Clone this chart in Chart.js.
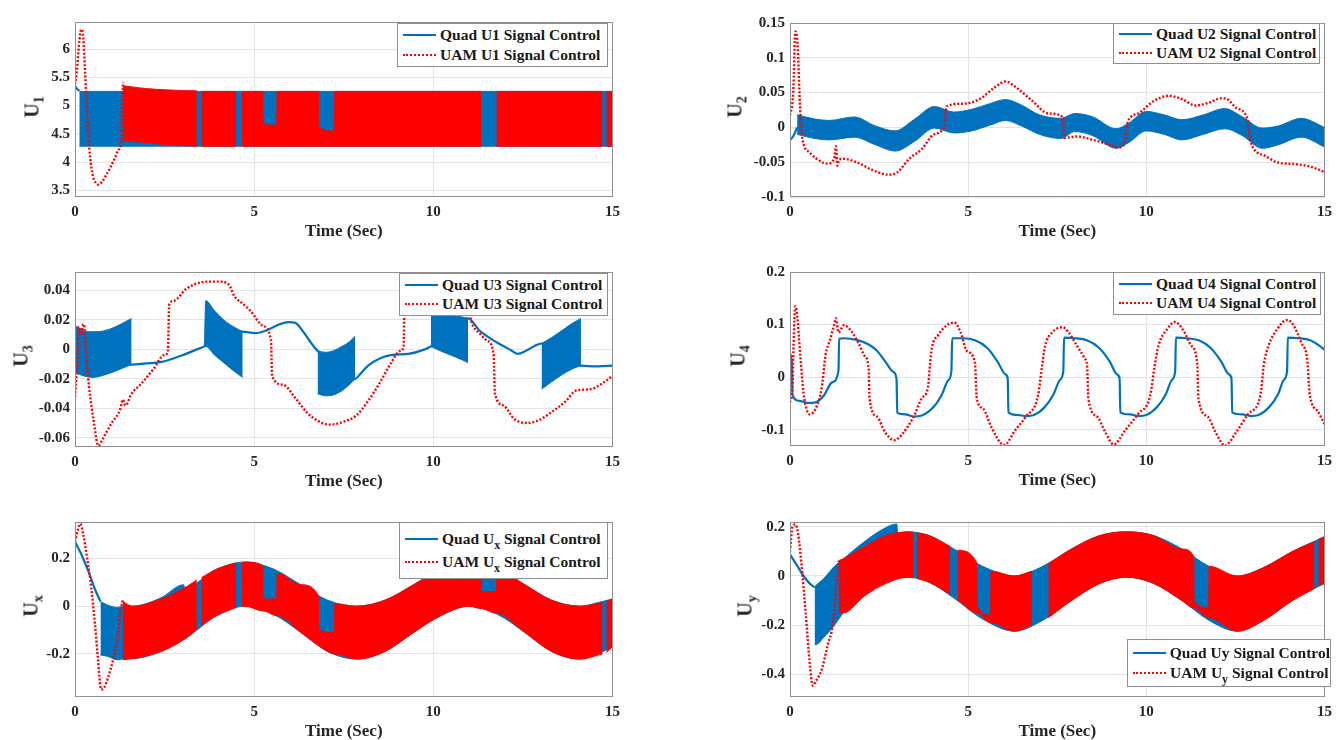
<!DOCTYPE html>
<html>
<head>
<meta charset="utf-8">
<title>Quad vs UAM control signals</title>
<script src="https://cdn.jsdelivr.net/npm/chart.js@4.4.1/dist/chart.umd.min.js"></script>
<style>
  html, body { margin: 0; padding: 0; background: #fff; }
  body { position: relative; width: 1339px; height: 740px; overflow: hidden; font-family: "Liberation Serif", "Times New Roman", serif; }
  canvas { position: absolute; }
  .ylab { position: absolute; transform: translate(-50%, -50%) rotate(-90deg); font-weight: bold; font-size: 20px; color: #262626; white-space: nowrap; }
  .ylab sub { font-size: 14px; line-height: 0; vertical-align: -5px; }
  .legend { position: absolute; box-sizing: border-box; background: #fff; border: 1px solid #8f8f8f;
            display: flex; flex-direction: column; justify-content: space-evenly;
            font-weight: bold; font-size: 15.5px; color: #1a1a1a; }
  .legend .row { display: flex; align-items: center; white-space: nowrap; line-height: 16px; }
  .legend sub { font-size: 12px; line-height: 0; vertical-align: -5px; }
  .sample { display: inline-block; width: 33px; margin: 0 4px 0 5px; border-top: 2px solid #0072bd; }
  .sample.dot { border-top: 2.5px dotted #ff0000; }
</style>
</head>
<body>
<script>
// ---------- data ----------
const X_TICKS = [0, 5, 10, 15];
const X_TITLE = 'Time (Sec)';
const Y_LABELS = ['U<sub>1</sub>', 'U<sub>2</sub>', 'U<sub>3</sub>', 'U<sub>4</sub>', 'U<sub>x</sub>', 'U<sub>y</sub>'];
const LEGENDS = [
  ['Quad U1 Signal Control', 'UAM U1 Signal Control'],
  ['Quad U2 Signal Control', 'UAM U2 Signal Control'],
  ['Quad U3 Signal Control', 'UAM U3 Signal Control'],
  ['Quad U4 Signal Control', 'UAM U4 Signal Control'],
  ['Quad U<sub>x</sub> Signal Control', 'UAM U<sub>x</sub> Signal Control'],
  ['Quad Uy Signal Control', 'UAM U<sub>y</sub> Signal Control']
];

// U1
const U1_TICKS = [3.5, 4, 4.5, 5, 5.5, 6];
const U1_TIME_QUAD = [0, 0.05, 0.12];
const U1_QUAD = [5.35, 5.3, 5.26];
const U1_BAND_TIME_QUAD = [0.12, 15];
const U1_BAND_HI_QUAD = [5.25, 5.25];
const U1_BAND_LO_QUAD = [4.28, 4.28];
const U1_TIME_UAM = [0, 0.05, 0.1, 0.15, 0.19, 0.23, 0.28, 0.34, 0.42, 0.5, 0.58, 0.65, 0.75, 0.88, 1.0, 1.12, 1.22, 1.28, 1.31, 1.34];
const U1_UAM = [5.37, 5.6, 6.0, 6.3, 6.35, 6.2, 5.6, 4.8, 4.1, 3.75, 3.63, 3.6, 3.65, 3.78, 3.92, 4.08, 4.22, 4.3, 5.0, 5.42];
const U1_BAND_TIME_UAM = [1.34, 1.6, 2.0, 2.5, 3.0, 3.4, 3.47, 3.53, 4.0, 4.5, 4.58, 4.66, 5.24, 5.25, 5.63, 5.64, 6.79, 6.8, 7.24, 7.25, 11.33, 11.55, 11.76, 14.72, 14.78, 14.83, 15];
const U1_BAND_HI_UAM = [5.35, 5.33, 5.3, 5.28, 5.265, 5.26, null, 5.25, 5.25, 5.25, null, 5.25, 5.25, 4.68, 4.65, 5.25, 5.25, 4.62, 4.55, 5.25, 5.25, null, 5.25, 5.25, null, 5.25, 5.25];
const U1_BAND_LO_UAM = [4.38, 4.37, 4.34, 4.31, 4.29, 4.28, null, 4.28, 4.28, 4.28, null, 4.28, 4.28, 4.28, 4.28, 4.28, 4.28, 4.28, 4.28, 4.28, 4.28, null, 4.28, 4.28, null, 4.28, 4.28];

// U2
const U2_TICKS = [-0.1, -0.05, 0, 0.05, 0.1, 0.15];
const U2_TIME_QUAD = [0, 0.1, 0.2];
const U2_QUAD = [-0.018, -0.012, 0.0];
const U2_BAND_TIME_QUAD = [0.2, 0.7, 1.1, 1.8, 2.4, 2.95, 3.5, 4.05, 4.6, 5.1, 5.6, 6.05, 6.5, 7.0, 7.6, 8.0, 8.5, 9.15, 9.5, 10.0, 10.5, 11.0, 11.6, 12.2, 12.7, 13.25, 13.7, 14.35, 15];
const U2_BAND_HI_QUAD = [0.018, 0.012, 0.010, 0.015, 0.002, -0.005, 0.012, 0.030, 0.022, 0.026, 0.034, 0.040, 0.032, 0.018, 0.013, 0.020, 0.015, -0.002, 0.006, 0.023, 0.018, 0.011, 0.018, 0.027, 0.015, -0.001, 0.002, 0.013, 0.0];
const U2_BAND_LO_QUAD = [-0.010, -0.016, -0.018, -0.014, -0.025, -0.034, -0.020, -0.001, -0.008, -0.005, 0.003, 0.010, 0.002, -0.010, -0.016, -0.006, -0.012, -0.030, -0.022, -0.005, -0.010, -0.018, -0.010, -0.002, -0.012, -0.030, -0.025, -0.014, -0.028];
const U2_TIME_UAM = [0, 0.09, 0.15, 0.21, 0.29, 0.35, 0.55, 0.9, 1.06, 1.24, 1.29, 1.33, 1.38, 1.47, 1.87, 2.32, 2.78, 3.0, 3.35, 3.7, 4.04, 4.33, 4.36, 4.39, 4.84, 5.3, 5.76, 6.05, 6.33, 6.79, 7.25, 7.65, 7.68, 7.7, 8.05, 8.5, 8.97, 9.2, 9.4, 9.43, 9.48, 9.77, 10.23, 10.63, 11.03, 11.37, 11.72, 12.12, 12.29, 12.52, 12.84, 12.87, 12.92, 13.32, 13.66, 14.23, 14.58, 15];
const U2_UAM = [0.0175, 0.05, 0.138, 0.12, 0.02, -0.017, -0.036, -0.05, -0.052, -0.045, -0.027, -0.055, -0.047, -0.045, -0.05, -0.0615, -0.068, -0.065, -0.045, -0.031, -0.010, 0.0013, 0.015, 0.03, 0.034, 0.04, 0.058, 0.066, 0.058, 0.0385, 0.02, 0.0152, 0.0, -0.015, -0.013, -0.018, -0.025, -0.029, -0.022, -0.008, 0.008, 0.02, 0.0385, 0.0454, 0.04, 0.0315, 0.035, 0.042, 0.04, 0.028, 0.012, 0.0, -0.02, -0.0405, -0.05, -0.053, -0.056, -0.064];

// U3
const U3_TICKS = [-0.06, -0.04, -0.02, 0, 0.02, 0.04];
const U3_TIME_QUAD = [0, 1.58, 1.97, 2.42, 2.76, 3.0, 3.3, 3.61, 4.68, 5.02, 5.36, 5.7, 5.98, 6.15, 6.37, 6.6, 6.77, 7.82, 7.95, 8.18, 8.52, 8.85, 9.3, 9.64, 9.93, 10.97, 11.28, 11.62, 11.9, 12.13, 12.35, 12.58, 12.8, 13.02, 14.12, 14.6, 15];
const U3_QUAD = [0.0, -0.0103, -0.0095, -0.0085, -0.006, -0.004, -0.001, 0.002, 0.012, 0.011, 0.013, 0.017, 0.0185, 0.018, 0.012, 0.004, -0.001, -0.020, -0.017, -0.011, -0.006, -0.0037, -0.003, -0.001, 0.002, 0.021, 0.013, 0.007, 0.003, 0.0, -0.003, -0.001, 0.002, 0.004, -0.011, -0.0115, -0.011];
const U3_BAND_TIME_QUAD = [0.02, 0.25, 0.5, 0.8, 1.1, 1.35, 1.58, 2.6, 3.61, 3.65, 3.9, 4.2, 4.45, 4.68, 5.7, 6.77, 7.0, 7.2, 7.45, 7.65, 7.82, 8.9, 9.93, 10.2, 10.5, 10.8, 10.97, 12.0, 13.02, 13.3, 13.6, 13.9, 14.12];
const U3_BAND_HI_QUAD = [0.016, 0.0125, 0.012, 0.0125, 0.015, 0.018, 0.021, null, 0.002, 0.033, 0.026, 0.019, 0.015, 0.012, null, -0.001, -0.002, -0.001, 0.002, 0.005, 0.009, null, 0.024, 0.024, 0.023, 0.022, 0.021, null, 0.004, 0.008, 0.013, 0.018, 0.021];
const U3_BAND_LO_QUAD = [-0.016, -0.018, -0.019, -0.0175, -0.015, -0.0125, -0.0103, null, 0.002, 0.002, -0.004, -0.010, -0.015, -0.019, null, -0.030, -0.0315, -0.031, -0.028, -0.024, -0.020, null, 0.002, -0.001, -0.004, -0.007, -0.009, null, -0.027, -0.022, -0.017, -0.013, -0.011];
const U3_TIME_UAM = [0, 0.06, 0.11, 0.17, 0.23, 0.26, 0.3, 0.39, 0.53, 0.65, 0.79, 1.02, 1.27, 1.33, 1.41, 1.58, 1.86, 2.2, 2.48, 2.59, 2.63, 2.76, 3.1, 3.44, 3.72, 4.0, 4.29, 4.45, 4.68, 4.9, 5.24, 5.47, 5.5, 5.81, 6.15, 6.48, 6.82, 7.1, 7.5, 7.84, 8.18, 8.52, 8.8, 9.08, 9.17, 9.2, 9.6, 10.1, 10.66, 10.83, 11.05, 11.33, 11.5, 11.68, 11.72, 11.96, 12.25, 12.6, 12.94, 13.27, 13.7, 13.98, 14.38, 14.72, 15];
const U3_UAM = [-0.0323, -0.01, 0.0154, 0.01, 0.0171, 0.016, 0.0, -0.025, -0.05, -0.0653, -0.06, -0.05, -0.04, -0.034, -0.038, -0.030, -0.023, -0.013, -0.004, -0.002, 0.0303, 0.033, 0.041, 0.045, 0.046, 0.046, 0.044, 0.036, 0.031, 0.026, 0.016, 0.006, -0.018, -0.024, -0.033, -0.043, -0.049, -0.051, -0.049, -0.045, -0.035, -0.022, -0.010, -0.001, 0.002, 0.044, 0.048, 0.051, 0.053, 0.05, 0.02, 0.01, 0.006, -0.003, -0.030, -0.038, -0.047, -0.0499, -0.048, -0.043, -0.035, -0.028, -0.027, -0.023, -0.018];

// U4
const U4_TICKS = [-0.1, 0, 0.1, 0.2];
const U4_TIME_QUAD = [0, 0.05, 0.07, 0.26, 0.49, 0.72, 0.95, 1.18, 1.36, 1.38, 1.5, 1.87, 2.21, 2.44, 2.67, 2.9, 2.99, 3.01, 3.24, 3.47, 3.7, 4.04, 4.27, 4.44, 4.53, 4.55, 4.84, 5.19, 5.53, 5.82, 6.05, 6.11, 6.13, 6.4, 6.62, 6.85, 7.15, 7.4, 7.58, 7.67, 7.69, 8.0, 8.33, 8.67, 8.97, 9.18, 9.25, 9.27, 9.55, 9.78, 10.0, 10.3, 10.55, 10.72, 10.81, 10.83, 11.13, 11.47, 11.8, 12.1, 12.32, 12.39, 12.41, 12.7, 12.92, 13.15, 13.45, 13.7, 13.86, 13.95, 13.97, 14.27, 14.6, 14.85, 15];
const U4_QUAD = [0.044, 0.03, -0.034, -0.045, -0.049, -0.048, -0.035, -0.01, 0.012, 0.073, 0.074, 0.071, 0.062, 0.05, 0.03, 0.01, -0.004, -0.068, -0.071, -0.075, -0.073, -0.056, -0.032, -0.006, 0.012, 0.074, 0.074, 0.07, 0.056, 0.03, 0.005, -0.003, -0.067, -0.072, -0.074, -0.072, -0.057, -0.032, -0.005, 0.012, 0.075, 0.074, 0.07, 0.056, 0.03, 0.005, -0.003, -0.067, -0.071, -0.074, -0.072, -0.057, -0.032, -0.005, 0.012, 0.075, 0.074, 0.07, 0.056, 0.03, 0.005, -0.003, -0.067, -0.071, -0.074, -0.072, -0.057, -0.032, -0.005, 0.012, 0.075, 0.074, 0.07, 0.06, 0.052];
const U4_TIME_UAM = [0, 0.07, 0.1, 0.15, 0.19, 0.29, 0.38, 0.55, 0.72, 0.89, 1.0, 1.12, 1.24, 1.29, 1.36, 1.52, 1.69, 1.92, 2.1, 2.21, 2.23, 2.44, 2.67, 2.92, 3.13, 3.47, 3.7, 3.87, 3.93, 3.98, 4.16, 4.39, 4.61, 4.79, 4.96, 5.19, 5.24, 5.42, 5.65, 6.01, 6.33, 6.62, 6.96, 7.08, 7.16, 7.36, 7.65, 7.82, 8.05, 8.28, 8.34, 8.37, 8.62, 8.85, 9.08, 9.42, 9.77, 10.11, 10.23, 10.34, 10.57, 10.8, 11.03, 11.26, 11.43, 11.46, 11.72, 11.94, 12.21, 12.52, 12.86, 13.2, 13.3, 13.43, 13.66, 13.95, 14.12, 14.35, 14.52, 14.58, 14.81, 15];
const U4_UAM = [-0.048, -0.02, 0.06, 0.135, 0.125, 0.04, -0.03, -0.0706, -0.06, -0.02, 0.043, 0.07, 0.1, 0.112, 0.085, 0.099, 0.09, 0.065, 0.04, 0.015, -0.04, -0.075, -0.105, -0.12, -0.11, -0.075, -0.04, -0.02, 0.025, 0.055, 0.08, 0.098, 0.104, 0.085, 0.05, 0.0276, -0.04, -0.06, -0.095, -0.129, -0.1, -0.075, -0.035, 0.025, 0.06, 0.085, 0.095, 0.085, 0.06, 0.035, 0.02, -0.04, -0.075, -0.105, -0.128, -0.1, -0.07, -0.035, 0.02, 0.06, 0.09, 0.105, 0.09, 0.06, 0.025, -0.04, -0.075, -0.105, -0.13, -0.105, -0.07, -0.035, 0.025, 0.06, 0.09, 0.1086, 0.1, 0.065, 0.03, -0.03, -0.065, -0.089];

// Ux
const UX_TICKS = [-0.2, 0, 0.2];
const UX_TIME_QUAD = [0, 0.17, 0.39, 0.56, 0.71];
const UX_QUAD = [0.27, 0.22, 0.14, 0.07, 0.02];
const UX_BAND_TIME_QUAD = [0.71, 0.9, 1.18, 1.41, 1.6, 2.4, 3.03, 3.06, 3.95, 4.75, 5.55, 6.3, 7.05, 7.85, 8.65, 9.45, 10.2, 11.0, 11.8, 12.55, 13.3, 14.1, 14.6, 15];
const UX_BAND_HI_QUAD = [0.02, 0.005, -0.005, 0.0, 0.0, 0.035, 0.09, 0.077, 0.155, 0.185, 0.155, 0.09, 0.025, 0.0, 0.025, 0.09, 0.155, 0.185, 0.155, 0.09, 0.025, 0.0, 0.015, 0.03];
const UX_BAND_LO_QUAD = [-0.205, -0.21, -0.225, -0.22, -0.22, -0.19, -0.14, -0.138, -0.04, 0.0, -0.035, -0.11, -0.19, -0.222, -0.19, -0.11, -0.04, 0.0, -0.035, -0.11, -0.19, -0.222, -0.2, -0.17];
const UX_TIME_UAM = [0, 0.08, 0.15, 0.23, 0.34, 0.45, 0.56, 0.64, 0.73, 0.82, 0.92, 1.07, 1.18, 1.26, 1.33];
const UX_UAM = [0.27, 0.32, 0.345, 0.3, 0.2, 0.08, -0.08, -0.22, -0.35, -0.34, -0.3, -0.22, -0.14, -0.03, 0.025];
const UX_BAND_TIME_UAM = [1.33, 1.6, 2.4, 3.04, 3.4, 3.46, 3.53, 3.95, 4.5, 4.58, 4.66, 4.75, 5.24, 5.25, 5.63, 5.64, 6.3, 6.79, 6.8, 7.24, 7.25, 7.85, 8.65, 9.45, 10.2, 11.0, 11.33, 11.34, 11.75, 11.76, 12.55, 13.3, 14.1, 14.72, 14.78, 14.83, 15];
const UX_BAND_HI_UAM = [0.02, 0.0, 0.03, 0.075, 0.11, null, 0.12, 0.155, 0.182, null, 0.184, 0.185, 0.17, 0.03, 0.03, 0.138, 0.09, 0.045, -0.1, -0.11, 0.01, 0.0, 0.025, 0.09, 0.155, 0.185, 0.175, 0.06, 0.06, 0.155, 0.09, 0.025, 0.0, 0.015, null, 0.02, 0.03];
const UX_BAND_LO_UAM = [-0.225, -0.22, -0.19, -0.14, -0.095, null, -0.08, -0.04, -0.005, null, 0.0, 0.0, -0.02, -0.02, -0.04, -0.04, -0.11, -0.165, -0.166, -0.2, -0.2, -0.222, -0.19, -0.11, -0.04, 0.0, -0.01, -0.01, -0.03, -0.03, -0.11, -0.19, -0.222, -0.2, null, -0.195, -0.17];

// Uy
const UY_TICKS = [-0.4, -0.2, 0, 0.2];
const UY_TIME_QUAD = [0, 0.21, 0.38, 0.55, 0.69];
const UY_QUAD = [0.088, 0.04, 0.0, -0.03, -0.046];
const UY_BAND_TIME_QUAD = [0.69, 0.72, 0.95, 1.25, 1.5, 2.0, 2.6, 3.0, 3.02, 3.3, 3.9, 4.6, 5.4, 6.3, 7.1, 7.9, 8.7, 9.45, 10.2, 11.0, 11.75, 12.55, 13.3, 14.1, 15];
const UY_BAND_HI_QUAD = [-0.046, -0.04, -0.01, 0.04, 0.07, 0.13, 0.19, 0.212, 0.17, 0.18, 0.165, 0.11, 0.04, 0.0, 0.04, 0.11, 0.165, 0.18, 0.165, 0.11, 0.04, 0.0, 0.035, 0.1, 0.16];
const UY_BAND_LO_QUAD = [-0.28, -0.28, -0.25, -0.2, -0.15, -0.08, -0.03, -0.01, -0.008, -0.005, -0.025, -0.09, -0.175, -0.225, -0.18, -0.1, -0.03, -0.005, -0.03, -0.1, -0.18, -0.225, -0.18, -0.1, -0.03];
const UY_TIME_UAM = [0, 0.07, 0.15, 0.23, 0.32, 0.44, 0.55, 0.64, 0.72, 0.89, 1.06, 1.2, 1.3, 1.37];
const UY_UAM = [0.1, 0.2, 0.21, 0.17, 0.05, -0.15, -0.35, -0.447, -0.43, -0.38, -0.28, -0.2, -0.05, 0.063];
const UY_BAND_TIME_UAM = [1.37, 1.5, 2.1, 2.7, 3.3, 3.47, 3.51, 3.56, 3.9, 4.5, 4.6, 4.7, 5.24, 5.25, 5.63, 5.64, 6.3, 6.79, 7.0, 7.25, 7.9, 8.7, 9.45, 10.2, 11.0, 11.33, 11.34, 11.75, 11.76, 12.55, 13.3, 14.1, 14.72, 14.78, 14.83, 15];
const UY_BAND_HI_UAM = [0.063, 0.07, 0.12, 0.165, 0.18, 0.178, null, 0.175, 0.165, 0.12, null, 0.105, 0.055, -0.12, -0.16, 0.02, 0.0, 0.02, null, 0.05, 0.11, 0.165, 0.18, 0.165, 0.11, 0.08, -0.1, -0.13, 0.04, 0.0, 0.035, 0.1, 0.14, null, 0.15, 0.16];
const UY_BAND_LO_UAM = [-0.15, -0.15, -0.08, -0.03, -0.005, -0.008, null, -0.01, -0.025, -0.075, null, -0.095, -0.15, -0.15, -0.19, -0.19, -0.225, -0.2, null, -0.17, -0.1, -0.03, -0.005, -0.03, -0.1, -0.13, -0.13, -0.17, -0.17, -0.225, -0.18, -0.1, -0.05, null, -0.04, -0.03];

// ---------- drawing ----------
const BLUE = '#0072bd';
const RED = '#ff0000';

Chart.defaults.font.family = '"Liberation Serif", "Times New Roman", serif';
Chart.defaults.font.weight = 'bold';
Chart.defaults.font.size = 15;
Chart.defaults.color = '#262626';

function pts(t, v) {
  return t.map((x, i) => ({ x: x, y: v[i] }));
}

function line(t, v, color, dotted, order) {
  return {
    data: pts(t, v), borderColor: color, borderWidth: dotted ? 2.4 : 2.2,
    borderDash: dotted ? [2, 1.8] : [], pointRadius: 0, fill: false, order: order,
    cubicInterpolationMode: 'monotone', spanGaps: false
  };
}

// lower edge then upper edge, the upper one filled down to the lower one
function band(t, lo, hi, color, order) {
  const common = { borderColor: color, borderWidth: 1, pointRadius: 0, order: order,
                   cubicInterpolationMode: 'monotone', spanGaps: false };
  return [
    Object.assign({ data: pts(t, lo), fill: false }, common),
    Object.assign({ data: pts(t, hi), fill: '-1', backgroundColor: color }, common)
  ];
}

const frame = {
  id: 'frame',
  afterDatasetsDraw(chart) {
    const { ctx, chartArea: a } = chart;
    ctx.save();
    ctx.strokeStyle = '#8f8f8f';
    ctx.lineWidth = 1;
    ctx.strokeRect(Math.round(a.left) + 0.5, Math.round(a.top) + 0.5, Math.round(a.width) - 1, Math.round(a.height) - 1);
    ctx.restore();
  }
};

const PAD_L = 62, PAD_T = 8, PAD_R = 8, PAD_B = 48;

function panel(rect, yMin, yMax, yTicks, datasets, ylabPos, ylab, legRect, legText) {
  const [L, T, R, B] = rect;
  const cv = document.createElement('canvas');
  const w = R - L + PAD_L + PAD_R, h = B - T + PAD_T + PAD_B;
  cv.width = w; cv.height = h;
  cv.style.left = (L - PAD_L) + 'px';
  cv.style.top = (T - PAD_T) + 'px';
  cv.style.width = w + 'px'; cv.style.height = h + 'px';
  document.body.appendChild(cv);

  new Chart(cv, {
    type: 'line',
    data: { datasets: datasets },
    options: {
      responsive: false,
      animation: false,
      events: [],
      layout: { padding: { left: 0, top: PAD_T, right: PAD_R, bottom: 0 } },
      plugins: { legend: { display: false }, tooltip: { enabled: false } },
      scales: {
        x: {
          type: 'linear', min: 0, max: 15,
          afterBuildTicks: s => { s.ticks = X_TICKS.map(v => ({ value: v })); },
          afterFit: s => { s.height = PAD_B; },
          ticks: { padding: 6, maxRotation: 0, callback: v => String(v) },
          grid: { color: '#e4e4e4', drawTicks: false },
          border: { display: false },
          title: { display: true, text: X_TITLE, font: { size: 17, weight: 'bold' }, color: '#262626', padding: { top: 0, bottom: 3 } }
        },
        y: {
          type: 'linear', min: yMin, max: yMax,
          afterBuildTicks: s => { s.ticks = yTicks.map(v => ({ value: v })); },
          afterFit: s => { s.width = PAD_L; },
          ticks: { padding: 5, callback: v => String(v) },
          grid: { color: '#e4e4e4', drawTicks: false },
          border: { display: false }
        }
      }
    },
    plugins: [frame]
  });

  const yl = document.createElement('div');
  yl.className = 'ylab';
  yl.style.left = ylabPos[0] + 'px';
  yl.style.top = ylabPos[1] + 'px';
  yl.innerHTML = ylab;
  document.body.appendChild(yl);

  const lg = document.createElement('div');
  lg.className = 'legend';
  lg.style.left = legRect[0] + 'px';
  lg.style.top = legRect[1] + 'px';
  lg.style.width = legRect[2] + 'px';
  lg.style.height = legRect[3] + 'px';
  lg.innerHTML =
    '<div class="row"><span class="sample"></span><span>' + legText[0] + '</span></div>' +
    '<div class="row"><span class="sample dot"></span><span>' + legText[1] + '</span></div>';
  document.body.appendChild(lg);
}

panel([75, 16, 618, 197], 3.38, 6.48, U1_TICKS, [
  ...band(U1_BAND_TIME_UAM, U1_BAND_LO_UAM, U1_BAND_HI_UAM, RED, 0),
  line(U1_TIME_UAM, U1_UAM, RED, true, 0),
  ...band(U1_BAND_TIME_QUAD, U1_BAND_LO_QUAD, U1_BAND_HI_QUAD, BLUE, 1),
  line(U1_TIME_QUAD, U1_QUAD, BLUE, false, 1)
], [32, 107], Y_LABELS[0], [397, 23, 211, 44], LEGENDS[0]);

panel([790, 17, 1330, 197], -0.1, 0.15, U2_TICKS, [
  line(U2_TIME_UAM, U2_UAM, RED, true, 0),
  ...band(U2_BAND_TIME_QUAD, U2_BAND_LO_QUAD, U2_BAND_HI_QUAD, BLUE, 1),
  line(U2_TIME_QUAD, U2_QUAD, BLUE, false, 1)
], [735, 107], Y_LABELS[1], [1113, 23, 207, 41], LEGENDS[1]);

panel([75, 266, 618, 447], -0.0662, 0.0525, U3_TICKS, [
  line(U3_TIME_UAM, U3_UAM, RED, true, 0),
  ...band(U3_BAND_TIME_QUAD, U3_BAND_LO_QUAD, U3_BAND_HI_QUAD, BLUE, 1),
  line(U3_TIME_QUAD, U3_QUAD, BLUE, false, 1)
], [21, 356], Y_LABELS[2], [399, 273, 209, 43], LEGENDS[2]);

panel([790, 266, 1330, 446], -0.131, 0.2, U4_TICKS, [
  line(U4_TIME_UAM, U4_UAM, RED, true, 0),
  line(U4_TIME_QUAD, U4_QUAD, BLUE, false, 1)
], [738, 356], Y_LABELS[3], [1113, 272, 208, 43], LEGENDS[3]);

panel([75, 516, 618, 697], -0.381, 0.353, UX_TICKS, [
  ...band(UX_BAND_TIME_UAM, UX_BAND_LO_UAM, UX_BAND_HI_UAM, RED, 0),
  line(UX_TIME_UAM, UX_UAM, RED, true, 0),
  ...band(UX_BAND_TIME_QUAD, UX_BAND_LO_QUAD, UX_BAND_HI_QUAD, BLUE, 1),
  line(UX_TIME_QUAD, UX_QUAD, BLUE, false, 1)
], [31, 606], Y_LABELS[4], [399, 522, 209, 57], LEGENDS[4]);

panel([790, 516, 1330, 697], -0.493, 0.22, UY_TICKS, [
  ...band(UY_BAND_TIME_UAM, UY_BAND_LO_UAM, UY_BAND_HI_UAM, RED, 0),
  line(UY_TIME_UAM, UY_UAM, RED, true, 0),
  ...band(UY_BAND_TIME_QUAD, UY_BAND_LO_QUAD, UY_BAND_HI_QUAD, BLUE, 1),
  line(UY_TIME_QUAD, UY_QUAD, BLUE, false, 1)
], [745, 606], Y_LABELS[5], [1127, 639, 204, 48], LEGENDS[5]);
</script>
</body>
</html>
